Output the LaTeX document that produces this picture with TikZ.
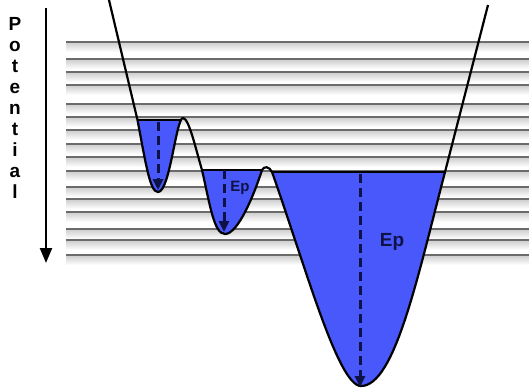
\documentclass[tikz,border=0pt]{standalone}
\usepackage{fontspec}
\setmainfont{Liberation Sans}
\usetikzlibrary{arrows.meta}

\definecolor{wellblue}{RGB}{72,88,250}
\definecolor{navy}{RGB}{15,18,70}

% the potential curve, left top to right top
\newcommand\wellcurve{(109,0) -- (137.5,120)
  .. controls (146,165) and (150,192) .. (158,192)
  .. controls (170,192) and (176,118) .. (183,118)
  .. controls (189,118) and (196,150) .. (202,170)
  .. controls (210,205) and (214,234) .. (225,234)
  .. controls (238,234) and (254,195) .. (262,170)
  .. controls (264,166) and (269,166) .. (272,172)
  .. controls (305,265) and (338,386) .. (361,386)
  .. controls (395,386) and (418,275) .. (445,172) -- (488,5)}

\begin{document}
\begin{tikzpicture}[x=1pt, y=-1pt,
    gridline/.style={draw=black!58, line width=1.5pt},
    band/.style={top color=black!20, bottom color=white},
    wall/.style={draw=black, line width=2.2pt, line join=round},
    surface/.style={draw=black, line width=2.8pt},
    drop/.style={draw=navy, line width=3pt, dash pattern=on 9pt off 5pt, -{Triangle[length=11pt,width=10pt]}},
    eplabel/.style={text=navy, font=\bfseries\fontsize{15}{15}\selectfont},
    letter/.style={font=\bfseries\fontsize{19}{19}\selectfont, anchor=base}
  ]
  \useasboundingbox (0,0) rectangle (529,391);

  % energy levels
  \foreach \y in {42,59,72,85,104,117,130,144,157,171,187,199,212,229,240,255} {
    \shade[band] (66,\y) rectangle (529,\y+10);
    \draw[gridline] (66,\y) -- (529,\y);
  }

  % axis
  \coordinate (pottop) at (46,8);
  \coordinate (potbot) at (46,263);
  \draw[line width=2.4pt, -{Triangle[length=15pt,width=12pt]}] (pottop) -- (potbot);
  \foreach \ch [count=\i from 0] in {P,o,t,e,n,t,i,a,l}
    \node[letter] (pot\i) at (15,30+21*\i) {\ch};

  % filled wells
  \begin{scope}
    \clip (130,120) rectangle (181,200);
    \fill[wellblue] \wellcurve;
  \end{scope}
  \begin{scope}
    \clip (190,170) rectangle (264,240);
    \fill[wellblue] \wellcurve;
  \end{scope}
  \begin{scope}
    \clip (266,172) rectangle (450,390);
    \fill[wellblue] \wellcurve;
  \end{scope}

  \draw[wall] \wellcurve;

  % surfaces of the wells
  \coordinate (s1l) at (137.5,120); \coordinate (s1r) at (181,120);
  \coordinate (s2l) at (202,170);   \coordinate (s2r) at (262,170);
  \coordinate (s3l) at (272,172);   \coordinate (s3r) at (445,172);
  \draw[surface] (s1l) -- (s1r);
  \draw[surface] (s2l) -- (s2r);
  \draw[surface] (s3l) -- (s3r);

  % depths
  \coordinate (d1top) at (158,122); \coordinate (d1bot) at (158,190);
  \coordinate (d2top) at (224,170); \coordinate (d2bot) at (224,232);
  \coordinate (d3top) at (360,174); \coordinate (d3bot) at (360,387);
  \draw[drop] (d1top) -- (d1bot);
  \draw[drop] (d2top) -- (d2bot);
  \draw[drop] (d3top) -- (d3bot);

  \node[eplabel] (ep2) at (240,188) {Ep};
  \node[eplabel, font=\bfseries\fontsize{19}{19}\selectfont] (ep3) at (392,242) {Ep};
\end{tikzpicture}
\end{document}
